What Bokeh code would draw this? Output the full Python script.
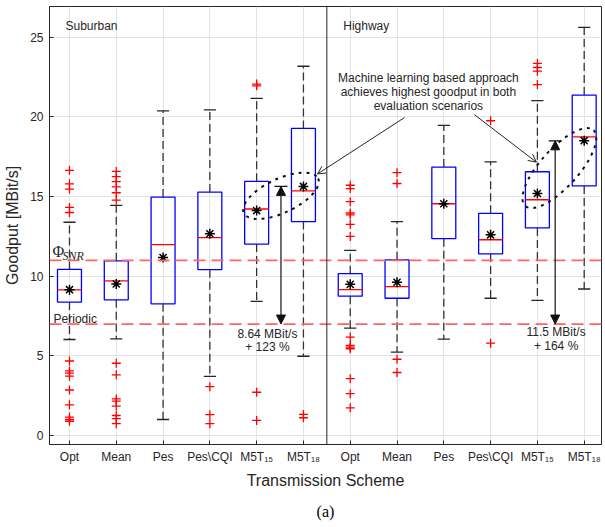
from bokeh.plotting import figure
from bokeh.models import (FixedTicker, Span, Arrow, NormalHead, OpenHead, TeeHead,
                          Title, Range1d, ColumnDataSource)
from bokeh.core.properties import value
from bokeh.embed import file_html
from bokeh.resources import INLINE

# ---------------- data ----------------
schemes = ["Opt", "Mean", "Pes", "Pes\\CQI", "M5T\u2081\u2085", "M5T\u2081\u2088"]
scenarios = ["Suburban", "Highway"]
positions = list(range(1, 13))
tick_labels = schemes + schemes
y_ticks = [0, 5, 10, 15, 20, 25]

box_top = [10.43, 10.97, 14.97, 15.28, 15.96, 19.28, 10.16, 11.03, 16.85, 13.95, 16.56, 21.37]
median = [9.14, 9.71, 11.98, 12.42, 14.22, 15.36, 9.16, 9.35, 14.55, 12.29, 14.80, 18.75]
box_bottom = [8.38, 8.52, 8.27, 10.41, 12.02, 13.43, 8.75, 8.62, 12.36, 11.40, 13.03, 15.67]
whisker_low = [6.03, 6.07, 1.01, 3.71, 8.42, 4.98, 6.74, 5.24, 6.05, 8.62, 8.48, 9.20]
whisker_high = [13.39, 14.45, 20.38, 20.44, 21.16, 23.18, 11.63, 13.43, 19.47, 17.18, 21.02, 25.62]
mean = [9.16, 9.51, 11.17, 12.67, 14.12, 15.64, 9.49, 9.62, 14.55, 12.60, 15.19, 18.51]

outliers = [
    [16.65, 15.80, 15.47, 14.32, 14.00, 4.68, 4.06, 3.92, 3.73, 2.86, 1.93, 1.16, 1.01, 0.90],
    [16.58, 16.25, 15.94, 15.61, 15.24, 14.78, 4.54, 3.81, 2.30, 2.16, 1.85, 1.26, 1.06, 0.75],
    [],
    [3.07, 1.31, 0.75],
    [22.06, 21.95, 2.72, 0.95],
    [1.33, 1.12],
    [15.71, 15.50, 14.68, 13.97, 13.85, 13.25, 12.50, 6.18, 5.66, 5.55, 5.45, 3.57, 2.63, 1.74],
    [16.50, 15.82, 4.79, 3.96],
    [],
    [19.76, 5.80],
    [23.36, 23.10, 22.87, 22.03],
    [],
]

phi_snr = 11.0
periodic = 7.0
gain_abs = [8.64, 11.5]          # MBit/s over periodic
gain_pct = [123, 164]
gain_x = [5.52, 11.38]

# ---------------- style ----------------
TXT = "#262626"
FONT = "Liberation Sans"
half_box = 0.256
half_cap = 0.13

p = figure(width=602, height=528,
           x_range=Range1d(0.573, 12.37), y_range=Range1d(-0.56, 26.93),
           output_backend="svg", toolbar_location=None,
           min_border_left=49, min_border_right=1, min_border_top=6, min_border_bottom=80,
           background_fill_color="white", border_fill_color="white")

p.outline_line_color = TXT
p.outline_line_width = 1

# axes
p.xaxis.ticker = FixedTicker(ticks=positions)
p.xaxis.major_label_overrides = {pp: lab for pp, lab in zip(positions, tick_labels)}
p.yaxis.ticker = FixedTicker(ticks=y_ticks)
for ax in (p.xaxis[0], p.yaxis[0]):
    ax.axis_line_color = TXT
    ax.major_tick_line_color = TXT
    ax.major_tick_in = 4
    ax.major_tick_out = 0
    ax.minor_tick_line_color = None
    ax.major_label_text_font = FONT
    ax.major_label_text_font_size = "12px"
    ax.major_label_text_color = TXT
    ax.axis_label_text_font = FONT
    ax.axis_label_text_font_size = "16px"
    ax.axis_label_text_font_style = "normal"
    ax.axis_label_text_color = TXT
p.xaxis.axis_label = "Transmission Scheme"
p.yaxis.axis_label = "Goodput [MBit/s]"
p.xaxis.major_label_standoff = 5
p.xaxis.axis_label_standoff = 5
p.yaxis.major_label_standoff = 6
p.yaxis.axis_label_standoff = 6

p.xgrid.ticker = FixedTicker(ticks=positions)
p.ygrid.ticker = FixedTicker(ticks=y_ticks)
p.xgrid.grid_line_color = "#e3e3e3"
p.ygrid.grid_line_color = "#e3e3e3"

# reference lines
p.add_layout(Span(location=phi_snr, dimension="width", line_color="#ff6464",
                  line_dash="12 6", line_width=1.8))
p.add_layout(Span(location=periodic, dimension="width", line_color="#ff6464",
                  line_dash="12 6", line_width=1.8))
p.add_layout(Span(location=6.5, dimension="height", line_color=TXT, line_width=1))

# whiskers
src = ColumnDataSource(dict(
    x=positions, top=box_top, bottom=box_bottom, med=median,
    wlo=whisker_low, whi=whisker_high, mean=mean,
    left=[x - half_box for x in positions], right=[x + half_box for x in positions],
    cl=[x - half_cap for x in positions], cr=[x + half_cap for x in positions],
))
p.segment(x0="x", y0="top", x1="x", y1="whi", source=src, line_color="#333333",
          line_dash="8 4", line_width=1.3)
p.segment(x0="x", y0="bottom", x1="x", y1="wlo", source=src, line_color="#333333",
          line_dash="8 4", line_width=1.3)
p.segment(x0="cl", y0="whi", x1="cr", y1="whi", source=src, line_color="#262626", line_width=1.3)
p.segment(x0="cl", y0="wlo", x1="cr", y1="wlo", source=src, line_color="#262626", line_width=1.3)

# boxes
p.quad(left="left", right="right", bottom="bottom", top="top", source=src,
       fill_alpha=0, line_color="#0000ff", line_width=1.3)
p.segment(x0="left", y0="med", x1="right", y1="med", source=src,
          line_color="#ff0000", line_width=1.3)

# outliers
ox, oy = [], []
for pos, vals in zip(positions, outliers):
    for v in vals:
        ox.append(pos)
        oy.append(v)
p.scatter(ox, oy, marker="cross", size=9, line_color="#ff0000", line_width=1.3)

# means
p.scatter(x="x", y="mean", source=src, marker="asterisk", size=10,
          line_color="black", line_width=1.5)

# gain arrows
for gx, ga in zip(gain_x, gain_abs):
    top = periodic + ga
    p.add_layout(Arrow(start=NormalHead(size=9, fill_color="#111111", line_color="#111111"),
                       end=NormalHead(size=9, fill_color="#111111", line_color="#111111"),
                       x_start=gx, y_start=periodic, x_end=gx, y_end=top,
                       line_color="#111111", line_width=1.2))
    p.add_layout(Arrow(end=TeeHead(size=13, line_color="#111111", line_width=1.3),
                       x_start=gx, y_start=periodic, x_end=gx, y_end=top,
                       line_alpha=0))

gain_text_x = [5.23, 11.40]
p.text(x=gain_text_x, y=[6.40, 6.47],
       text=[f"{g} MBit/s" for g in gain_abs],
       text_font=value(FONT), text_font_size="12px", text_color=TXT,
       text_align="center", text_baseline="middle")
p.text(x=gain_text_x, y=[5.57, 5.62],
       text=[f"+ {g} %" for g in gain_pct],
       text_font=value(FONT), text_font_size="12px", text_color=TXT,
       text_align="center", text_baseline="middle")

# ellipses
p.ellipse(x=[5.52, 11.47], y=[15.05, 16.79], width=[82, 102], height=[34, 38],
          angle=[25, 48], angle_units="deg", width_units="screen", height_units="screen",
          fill_alpha=0, line_color="#111111", line_dash="3 5", line_width=2)

# annotation text + arrows
note = ["Machine learning based approach",
        "achieves highest goodput in both",
        "evaluation scenarios"]
p.text(x=[8.67] * 3, y=[22.45, 21.58, 20.71], text=note,
       text_font=value(FONT), text_font_size="12px", text_color=TXT,
       text_align="center", text_baseline="middle")
p.add_layout(Arrow(end=OpenHead(size=8, line_color=TXT, line_width=1),
                   x_start=8.16, y_start=19.96, x_end=6.30, y_end=16.42,
                   line_color=TXT, line_width=1))
p.add_layout(Arrow(end=OpenHead(size=8, line_color=TXT, line_width=1),
                   x_start=9.65, y_start=20.15, x_end=10.98, y_end=17.16,
                   line_color=TXT, line_width=1))

# scenario labels
p.text(x=[0.915, 6.85], y=[25.68, 25.68], text=scenarios,
       text_font=value(FONT), text_font_size="12px", text_color=TXT,
       text_align="left", text_baseline="middle")

# line labels
p.text(x=[0.635], y=[11.55], text=["\u03a6"], text_font=value("Liberation Serif"),
       text_font_size="16px", text_color=TXT, text_align="left", text_baseline="middle")
p.text(x=[0.85], y=[11.28], text=["SNR"], text_font=value("Liberation Serif"),
       text_font_size="12px", text_font_style="italic", text_color=TXT,
       text_align="left", text_baseline="middle")
p.text(x=[0.66], y=[7.34], text=["Periodic"], text_font=value(FONT),
       text_font_size="12px", text_color=TXT, text_align="left", text_baseline="middle")

p.add_layout(Title(text="(a)", align="center", text_font="Liberation Serif",
                   text_font_size="16px", text_font_style="normal", text_color="black",
                   standoff=18), "below")

open("out.html", "w").write(file_html(p, INLINE))
